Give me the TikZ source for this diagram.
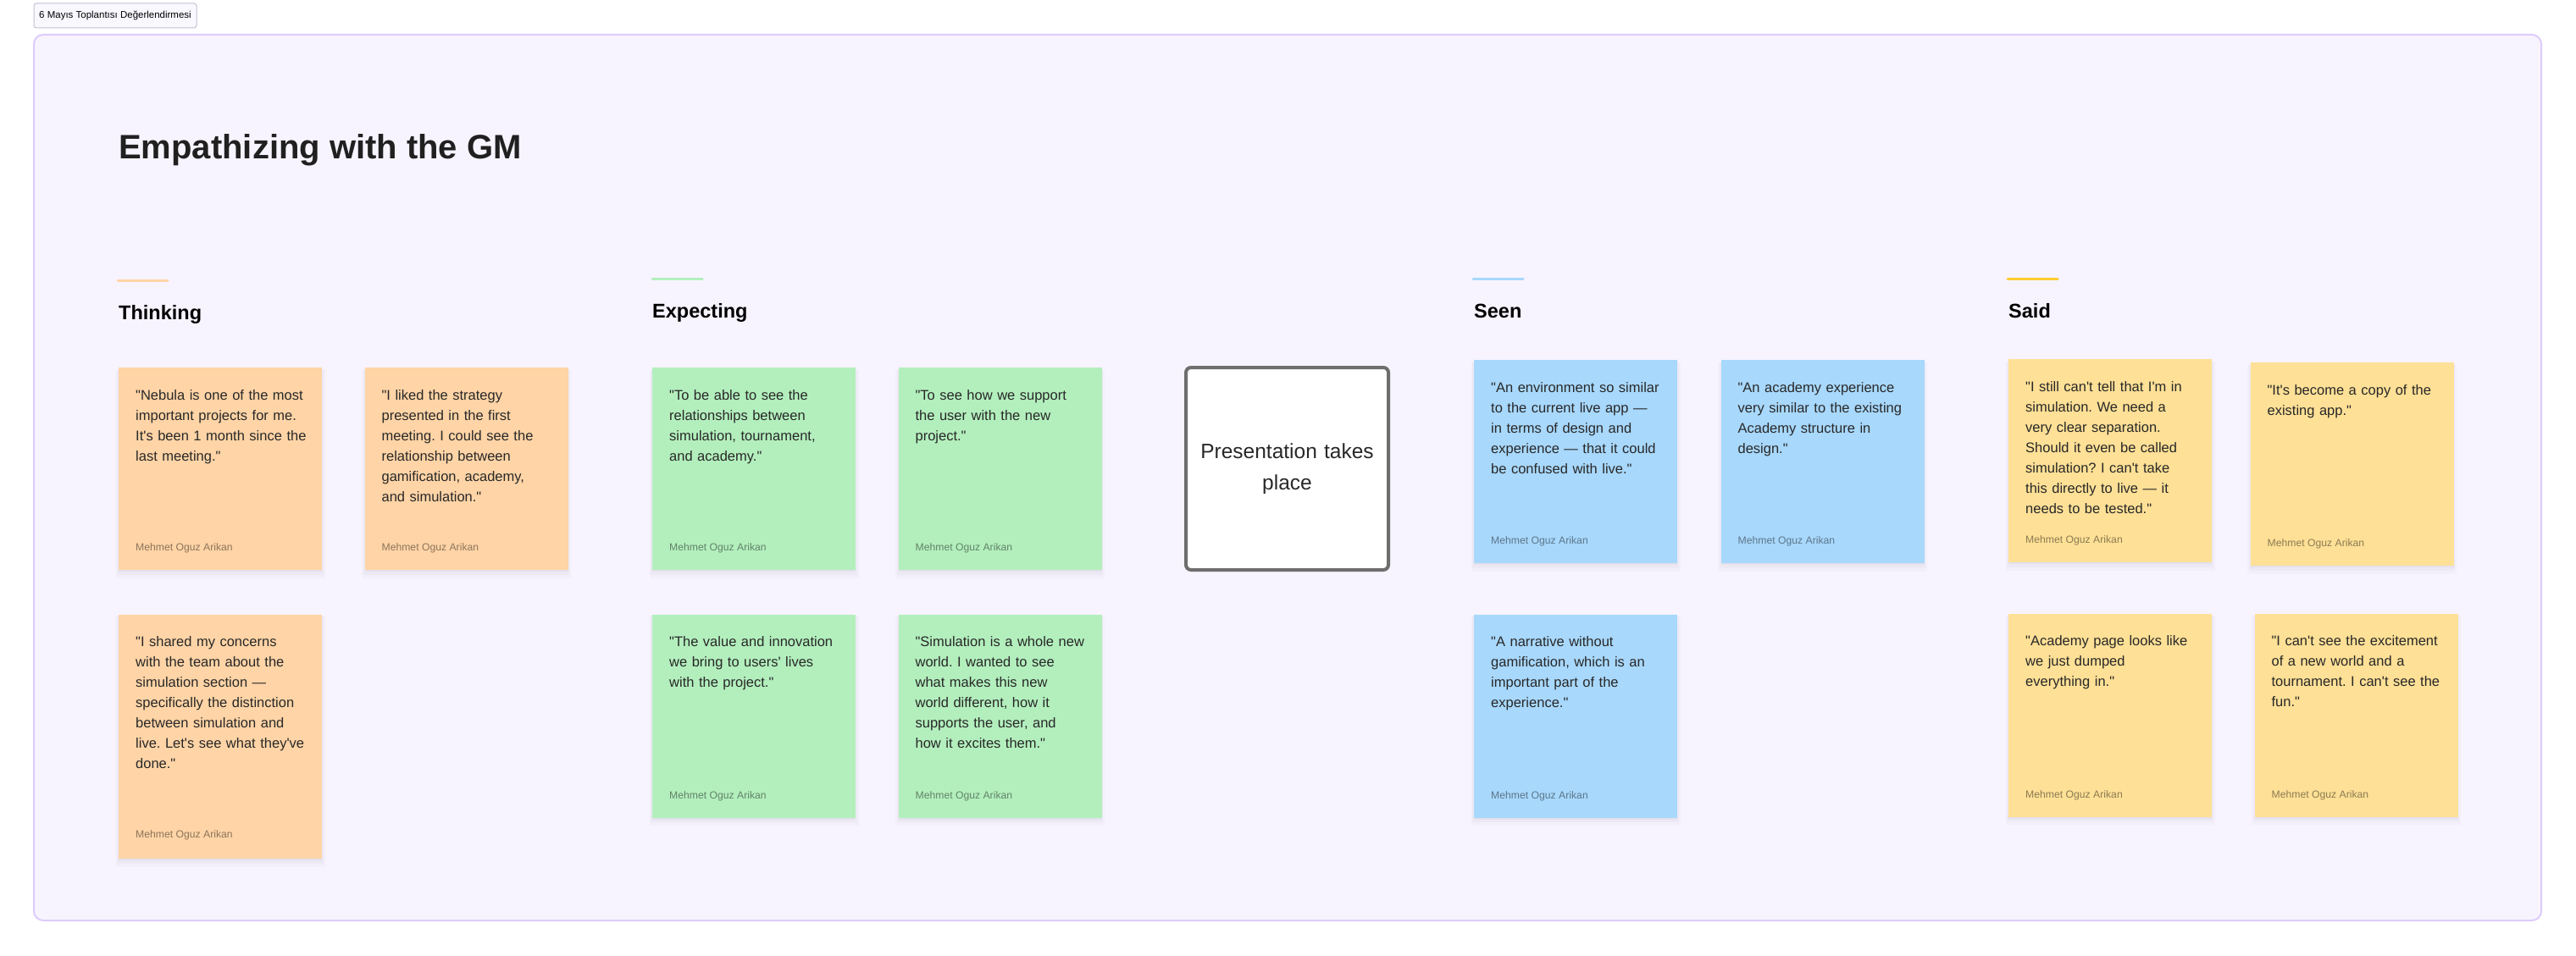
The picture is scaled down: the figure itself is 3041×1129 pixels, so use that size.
\documentclass[tikz,border=0pt]{standalone}
\usepackage{fontspec}
\setmainfont{Liberation Sans}[Ligatures=TeXOff]
\usetikzlibrary{positioning, shadows}
\definecolor{boardfill}{RGB}{247,244,255}
\definecolor{boardline}{RGB}{221,204,252}
\definecolor{tagline}{RGB}{196,192,210}
\definecolor{inkdark}{RGB}{40,40,40}
\definecolor{thinkpeach}{RGB}{255,212,166}
\definecolor{expectmint}{RGB}{179,239,189}
\definecolor{seensky}{RGB}{168,216,252}
\definecolor{saidbutter}{RGB}{254,224,150}
\definecolor{saidgold}{RGB}{255,203,47}
\definecolor{boxgray}{RGB}{110,110,110}
\frenchspacing

\begin{document}
\begin{tikzpicture}[x=1pt, y=-1pt,
    card/.style={anchor=north west, inner sep=0pt, minimum width=240pt, minimum height=239pt,
                 general shadow={fill=black, opacity=0.018, shadow yshift=-6pt, shadow scale=1.03},
                 general shadow={fill=black, opacity=0.025, shadow yshift=-4pt, shadow scale=1.015},
                 general shadow={fill=black, opacity=0.035, shadow yshift=-2pt}},
    thinkcard/.style={card, fill=thinkpeach},
    expectcard/.style={card, fill=expectmint},
    seencard/.style={card, fill=seensky},
    saidcard/.style={card, fill=saidbutter},
    quote/.style={font=\fontsize{16.5}{24}\selectfont, text=inkdark, text width=215pt,
                  align=left, inner sep=0pt},
    author/.style={font=\fontsize{12.2}{15}\selectfont, text=black, text opacity=0.45, inner sep=0pt},
    heading/.style={font=\fontsize{23.5}{28}\selectfont\bfseries, text=black, anchor=base west, inner sep=0pt},
    accent/.style={line width=3pt, line cap=round},
]
    \useasboundingbox (0,0) rectangle (3041,1129);

    % Board and tag
    \draw[boardline, fill=boardfill, line width=2pt, rounded corners=11pt] (40,41) rectangle (3000,1087);
    \node[draw=tagline, fill=boardfill!60, rounded corners=3pt, line width=1pt, minimum width=192pt,
          minimum height=29pt, inner sep=0pt, font=\fontsize{11.5}{13}\selectfont] (tag) at (136,18.5)
          {6 Mayıs Toplantısı Değerlendirmesi};

    % Title
    \node[anchor=base west, inner sep=0pt, font=\fontsize{40}{48}\selectfont\bfseries, text=inkdark!80!black]
          (title) at (140,187) {Empathizing with the GM};

    % Thinking
    \draw[accent, thinkpeach] (139,331) -- (198,331);
    \node[heading] (thinkhead) at (140,377) {Thinking};
    \node[thinkcard] (t1) at (140,434) {};
    \node[thinkcard, right=50pt of t1] (t2) {};
    \node[thinkcard, below=52pt of t1, minimum height=288pt] (t3) {};
    \node[quote, below right=26pt and 20pt of t1.north west] (t1q) {"Nebula is one of the most\\important projects for me.\\It's been 1 month since the\\last meeting."};
    \node[quote, below right=26pt and 20pt of t2.north west] (t2q) {"I liked the strategy\\presented in the first\\meeting. I could see the\\relationship between\\gamification, academy,\\and simulation."};
    \node[quote, below right=26pt and 20pt of t3.north west] (t3q) {"I shared my concerns\\with the team about the\\simulation section —\\specifically the distinction\\between simulation and\\live. Let's see what they've\\done."};
    \node[author, above right=20pt and 20pt of t1.south west] (t1a) {Mehmet Oguz Arikan};
    \node[author, above right=20pt and 20pt of t2.south west] (t2a) {Mehmet Oguz Arikan};
    \node[author, above right=22pt and 20pt of t3.south west] (t3a) {Mehmet Oguz Arikan};

    % Expecting
    \draw[accent, expectmint] (770,329) -- (829,329);
    \node[heading] (expecthead) at (770,375) {Expecting};
    \node[expectcard] (e1) at (770,434) {};
    \node[expectcard, right=50pt of e1] (e2) {};
    \node[expectcard, below=52pt of e1, minimum height=240pt] (e3) {};
    \node[expectcard, right=50pt of e3, minimum height=240pt] (e4) {};
    \node[quote, below right=26pt and 20pt of e1.north west] (e1q) {"To be able to see the\\relationships between\\simulation, tournament,\\and academy."};
    \node[quote, below right=26pt and 20pt of e2.north west] (e2q) {"To see how we support\\the user with the new\\project."};
    \node[quote, below right=26pt and 20pt of e3.north west] (e3q) {"The value and innovation\\we bring to users' lives\\with the project."};
    \node[quote, below right=26pt and 20pt of e4.north west] (e4q) {"Simulation is a whole new\\world. I wanted to see\\what makes this new\\world different, how it\\supports the user, and\\how it excites them."};
    \node[author, above right=20pt and 20pt of e1.south west] (e1a) {Mehmet Oguz Arikan};
    \node[author, above right=20pt and 20pt of e2.south west] (e2a) {Mehmet Oguz Arikan};
    \node[author, above right=20pt and 20pt of e3.south west] (e3a) {Mehmet Oguz Arikan};
    \node[author, above right=20pt and 20pt of e4.south west] (e4a) {Mehmet Oguz Arikan};

    % Presentation
    \node[draw=boxgray, line width=4pt, rounded corners=6pt, fill=white, minimum size=239pt,
          text width=220pt, align=center, font=\fontsize{24.5}{37}\selectfont, text=inkdark]
          (present) at (1519.5,553.5) {Presentation takes\\place};

    % Seen
    \draw[accent, seensky] (1739,329) -- (1798,329);
    \node[heading] (seenhead) at (1740,375) {Seen};
    \node[seencard, minimum height=240pt] (s1) at (1740,425) {};
    \node[seencard, minimum height=240pt, right=51pt of s1] (s2) {};
    \node[seencard, minimum height=240pt, below=60pt of s1] (s3) {};
    \node[quote, below right=26pt and 20pt of s1.north west] (s1q) {"An environment so similar\\to the current live app —\\in terms of design and\\experience — that it could\\be confused with live."};
    \node[quote, below right=26pt and 20pt of s2.north west] (s2q) {"An academy experience\\very similar to the existing\\Academy structure in\\design."};
    \node[quote, below right=26pt and 20pt of s3.north west] (s3q) {"A narrative without\\gamification, which is an\\important part of the\\experience."};
    \node[author, above right=20pt and 20pt of s1.south west] (s1a) {Mehmet Oguz Arikan};
    \node[author, above right=20pt and 20pt of s2.south west] (s2a) {Mehmet Oguz Arikan};
    \node[author, above right=20pt and 20pt of s3.south west] (s3a) {Mehmet Oguz Arikan};

    % Said
    \draw[accent, saidgold] (2370,329) -- (2429,329);
    \node[heading] (saidhead) at (2371,375) {Said};
    \node[saidcard, minimum height=240pt] (d1) at (2371,424) {};
    \node[saidcard, minimum height=240pt, right=45pt of d1, yshift=-4pt] (d2) {};
    \node[saidcard, minimum height=240pt, below=60pt of d1] (d3) {};
    \node[saidcard, minimum height=240pt, right=50pt of d3] (d4) {};
    \node[quote, below right=26pt and 20pt of d1.north west] (d1q) {"I still can't tell that I'm in\\simulation. We need a\\very clear separation.\\Should it even be called\\simulation? I can't take\\this directly to live — it\\needs to be tested."};
    \node[quote, below right=26pt and 20pt of d2.north west] (d2q) {"It's become a copy of the\\existing app."};
    \node[quote, below right=26pt and 20pt of d3.north west] (d3q) {"Academy page looks like\\we just dumped\\everything in."};
    \node[quote, below right=26pt and 20pt of d4.north west] (d4q) {"I can't see the excitement\\of a new world and a\\tournament. I can't see the\\fun."};
    \node[author, above right=20pt and 20pt of d1.south west] (d1a) {Mehmet Oguz Arikan};
    \node[author, above right=20pt and 20pt of d2.south west] (d2a) {Mehmet Oguz Arikan};
    \node[author, above right=20pt and 20pt of d3.south west] (d3a) {Mehmet Oguz Arikan};
    \node[author, above right=20pt and 20pt of d4.south west] (d4a) {Mehmet Oguz Arikan};
\end{tikzpicture}
\end{document}
